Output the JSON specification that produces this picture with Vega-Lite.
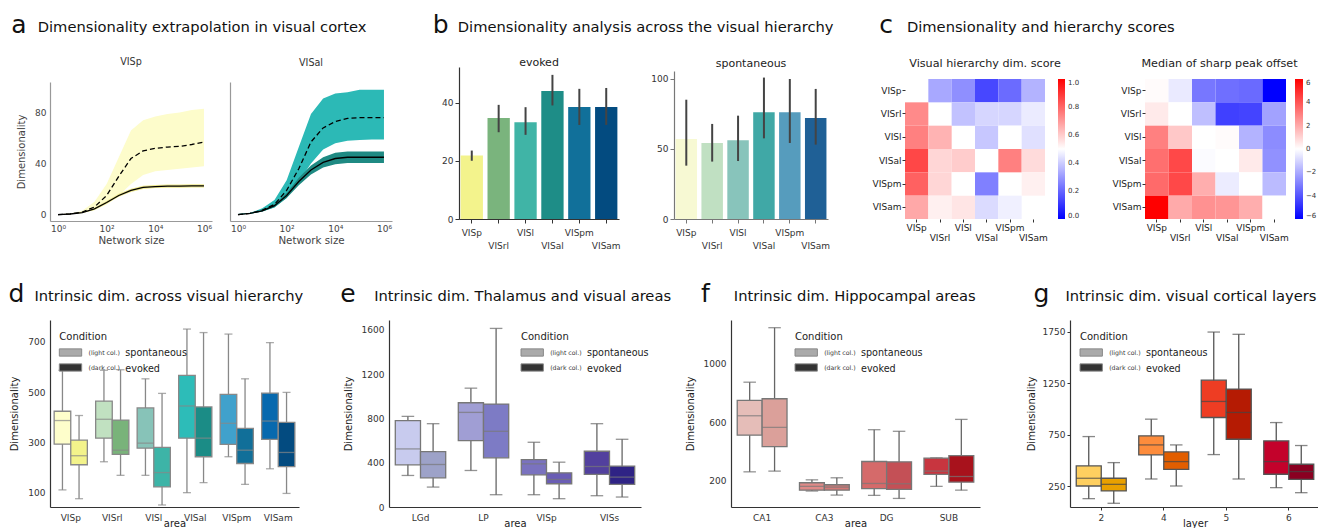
{
"$schema": "https://vega.github.io/schema/vega-lite/v6.json",
"padding": {"left": 8, "top": 25, "right": 0, "bottom": 0},
"config": {
  "font": "DejaVu Sans",
  "view": {"stroke": null},
  "axis": {"grid": false, "domainColor": "#333", "tickColor": "#333", "labelColor": "#333", "labelFont": "DejaVu Sans", "titleFont": "DejaVu Sans", "titleFontWeight": "normal", "titleColor": "#222", "labelFontSize": 9, "titleFontSize": 10, "tickSize": 4, "domainWidth": 1.2, "labelOverlap": false, "labelFlush": false},
  "legend": {"labelFont": "DejaVu Sans", "titleFont": "DejaVu Sans", "labelOverlap": false},
  "title": {"font": "DejaVu Sans", "fontWeight": "normal", "color": "#222"}
},
"datasets": {
  "a_visp": [
    {"n": 1, "m": 0, "lo": 0, "hi": 0.3, "ms": 0, "los": 0, "his": 0.3},
    {"n": 3.16, "m": 0.6, "lo": 0.4, "hi": 0.9, "ms": 0.5, "los": 0.3, "his": 0.7},
    {"n": 10, "m": 2, "lo": 1.2, "hi": 3, "ms": 1.6, "los": 1.2, "his": 2},
    {"n": 31.6, "m": 6, "lo": 3.5, "hi": 10, "ms": 4.5, "los": 3.7, "his": 5.3},
    {"n": 100, "m": 15, "lo": 8, "hi": 24, "ms": 9.5, "los": 8.5, "his": 10.6},
    {"n": 316, "m": 30, "lo": 15, "hi": 45, "ms": 15, "los": 14, "his": 16.3},
    {"n": 1000, "m": 44, "lo": 24, "hi": 66, "ms": 19, "los": 17.8, "his": 20.3},
    {"n": 3162, "m": 50, "lo": 31, "hi": 74, "ms": 21.3, "los": 20, "his": 22.6},
    {"n": 10000, "m": 52, "lo": 34, "hi": 77, "ms": 22, "los": 20.8, "his": 23.3},
    {"n": 31623, "m": 53, "lo": 35, "hi": 79, "ms": 22.3, "los": 21, "his": 23.6},
    {"n": 100000, "m": 53.5, "lo": 36, "hi": 80, "ms": 22.4, "los": 21.1, "his": 23.7},
    {"n": 316228, "m": 55, "lo": 37, "hi": 82, "ms": 22.5, "los": 21.2, "his": 23.8},
    {"n": 1000000, "m": 57, "lo": 38, "hi": 83, "ms": 22.5, "los": 21.2, "his": 23.8}
  ],
  "a_visal": [
    {"n": 1, "m": 0, "lo": 0, "hi": 0.4, "ms": 0, "los": 0, "his": 0.4},
    {"n": 3.16, "m": 1, "lo": 0.7, "hi": 1.4, "ms": 0.9, "los": 0.6, "his": 1.2},
    {"n": 10, "m": 3.5, "lo": 2.5, "hi": 5, "ms": 3, "los": 2.4, "his": 3.6},
    {"n": 31.6, "m": 8, "lo": 5.5, "hi": 11.5, "ms": 7, "los": 5.8, "his": 8.2},
    {"n": 100, "m": 19, "lo": 13, "hi": 27, "ms": 15, "los": 13, "his": 17},
    {"n": 316, "m": 36, "lo": 26, "hi": 53, "ms": 26, "los": 23, "his": 29},
    {"n": 1000, "m": 57, "lo": 40, "hi": 79, "ms": 35, "los": 31.5, "his": 38.5},
    {"n": 3162, "m": 68, "lo": 51, "hi": 91, "ms": 41, "los": 37, "his": 45},
    {"n": 10000, "m": 73, "lo": 56, "hi": 95, "ms": 44, "los": 39.5, "his": 48.5},
    {"n": 31623, "m": 75.5, "lo": 58, "hi": 96, "ms": 45, "los": 40.5, "his": 49.5},
    {"n": 100000, "m": 76, "lo": 58.5, "hi": 98, "ms": 45, "los": 40.5, "his": 49.5},
    {"n": 316228, "m": 76, "lo": 59, "hi": 98, "ms": 45, "los": 40.5, "his": 49.5},
    {"n": 1000000, "m": 76, "lo": 59, "hi": 98, "ms": 45, "los": 40.5, "his": 49.5}
  ],
  "b_ev": [
    {"area": "VISp", "v": 21.8, "lo": 20.0, "hi": 23.5},
    {"area": "VISrl", "v": 34.7, "lo": 29.8, "hi": 39.2},
    {"area": "VISl", "v": 33.2, "lo": 28.9, "hi": 38.4},
    {"area": "VISal", "v": 44.0, "lo": 39.0, "hi": 49.5},
    {"area": "VISpm", "v": 38.5, "lo": 32.3, "hi": 44.7},
    {"area": "VISam", "v": 38.5, "lo": 32.3, "hi": 45.0}
  ],
  "b_sp": [
    {"area": "VISp", "v": 57.1, "lo": 38.1, "hi": 85.2},
    {"area": "VISrl", "v": 54.3, "lo": 41.0, "hi": 67.9},
    {"area": "VISl", "v": 56.2, "lo": 41.4, "hi": 73.8},
    {"area": "VISal", "v": 76.2, "lo": 57.6, "hi": 101.0},
    {"area": "VISpm", "v": 76.2, "lo": 54.3, "hi": 100.0},
    {"area": "VISam", "v": 72.1, "lo": 53.1, "hi": 92.9}
  ],
  "c1": [
    {"r": "VISp", "c": "VISrl", "v": 0.33}, {"r": "VISp", "c": "VISl", "v": 0.28}, {"r": "VISp", "c": "VISal", "v": 0.14}, {"r": "VISp", "c": "VISpm", "v": 0.21}, {"r": "VISp", "c": "VISam", "v": 0.35},
    {"r": "VISrl", "c": "VISp", "v": 0.73}, {"r": "VISrl", "c": "VISl", "v": 0.38}, {"r": "VISrl", "c": "VISal", "v": 0.42}, {"r": "VISrl", "c": "VISpm", "v": 0.42}, {"r": "VISrl", "c": "VISam", "v": 0.46},
    {"r": "VISl", "c": "VISp", "v": 0.75}, {"r": "VISl", "c": "VISrl", "v": 0.65}, {"r": "VISl", "c": "VISal", "v": 0.39}, {"r": "VISl", "c": "VISpm", "v": 0.5}, {"r": "VISl", "c": "VISam", "v": 0.44},
    {"r": "VISal", "c": "VISp", "v": 0.86}, {"r": "VISal", "c": "VISrl", "v": 0.58}, {"r": "VISal", "c": "VISl", "v": 0.6}, {"r": "VISal", "c": "VISpm", "v": 0.75}, {"r": "VISal", "c": "VISam", "v": 0.57},
    {"r": "VISpm", "c": "VISp", "v": 0.81}, {"r": "VISpm", "c": "VISrl", "v": 0.58}, {"r": "VISpm", "c": "VISl", "v": 0.5}, {"r": "VISpm", "c": "VISal", "v": 0.25}, {"r": "VISpm", "c": "VISam", "v": 0.53},
    {"r": "VISam", "c": "VISp", "v": 0.67}, {"r": "VISam", "c": "VISrl", "v": 0.53}, {"r": "VISam", "c": "VISl", "v": 0.55}, {"r": "VISam", "c": "VISal", "v": 0.43}, {"r": "VISam", "c": "VISpm", "v": 0.47}
  ],
  "c2": [
    {"r": "VISp", "c": "VISp", "v": 0.1}, {"r": "VISp", "c": "VISrl", "v": -0.5}, {"r": "VISp", "c": "VISl", "v": -3.2}, {"r": "VISp", "c": "VISal", "v": -3.4}, {"r": "VISp", "c": "VISpm", "v": -3.5}, {"r": "VISp", "c": "VISam", "v": -6},
    {"r": "VISrl", "c": "VISp", "v": 0.5}, {"r": "VISrl", "c": "VISrl", "v": 0}, {"r": "VISrl", "c": "VISl", "v": -1.5}, {"r": "VISrl", "c": "VISal", "v": -4.5}, {"r": "VISrl", "c": "VISpm", "v": -4.4}, {"r": "VISrl", "c": "VISam", "v": -2.2},
    {"r": "VISl", "c": "VISp", "v": 3.0}, {"r": "VISl", "c": "VISrl", "v": 1.3}, {"r": "VISl", "c": "VISl", "v": 0}, {"r": "VISl", "c": "VISal", "v": 0.1}, {"r": "VISl", "c": "VISpm", "v": -1.8}, {"r": "VISl", "c": "VISam", "v": -2.7},
    {"r": "VISal", "c": "VISp", "v": 3.4}, {"r": "VISal", "c": "VISrl", "v": 4.3}, {"r": "VISal", "c": "VISl", "v": -0.1}, {"r": "VISal", "c": "VISal", "v": 0}, {"r": "VISal", "c": "VISpm", "v": 0.5}, {"r": "VISal", "c": "VISam", "v": -2.6},
    {"r": "VISpm", "c": "VISp", "v": 3.5}, {"r": "VISpm", "c": "VISrl", "v": 4.3}, {"r": "VISpm", "c": "VISl", "v": 1.9}, {"r": "VISpm", "c": "VISal", "v": -0.45}, {"r": "VISpm", "c": "VISpm", "v": 0}, {"r": "VISpm", "c": "VISam", "v": -1.6},
    {"r": "VISam", "c": "VISp", "v": 6}, {"r": "VISam", "c": "VISrl", "v": 2.0}, {"r": "VISam", "c": "VISl", "v": 2.6}, {"r": "VISam", "c": "VISal", "v": 2.5}, {"r": "VISam", "c": "VISpm", "v": 1.9}, {"r": "VISam", "c": "VISam", "v": 0}
  ],
  "d": [
    {"area": "VISp", "cond": "spontaneous", "lo": 111, "q1": 293, "med": 387, "q3": 424, "hi": 587},
    {"area": "VISp", "cond": "evoked", "lo": 76, "q1": 211, "med": 247, "q3": 309, "hi": 407},
    {"area": "VISrl", "cond": "spontaneous", "lo": 223, "q1": 317, "med": 392, "q3": 464, "hi": 587},
    {"area": "VISrl", "cond": "evoked", "lo": 169, "q1": 252, "med": 269, "q3": 389, "hi": 589},
    {"area": "VISl", "cond": "spontaneous", "lo": 169, "q1": 277, "med": 297, "q3": 437, "hi": 553},
    {"area": "VISl", "cond": "evoked", "lo": 51, "q1": 123, "med": 180, "q3": 280, "hi": 495},
    {"area": "VISal", "cond": "spontaneous", "lo": 100, "q1": 317, "med": 445, "q3": 567, "hi": 751},
    {"area": "VISal", "cond": "evoked", "lo": 140, "q1": 243, "med": 317, "q3": 441, "hi": 737},
    {"area": "VISpm", "cond": "spontaneous", "lo": 243, "q1": 292, "med": 376, "q3": 491, "hi": 731},
    {"area": "VISpm", "cond": "evoked", "lo": 133, "q1": 216, "med": 269, "q3": 356, "hi": 553},
    {"area": "VISam", "cond": "spontaneous", "lo": 195, "q1": 312, "med": 385, "q3": 496, "hi": 697},
    {"area": "VISam", "cond": "evoked", "lo": 97, "q1": 204, "med": 260, "q3": 380, "hi": 499}
  ],
  "e": [
    {"area": "LGd", "cond": "spontaneous", "lo": 285, "q1": 381, "med": 525, "q3": 780, "hi": 819},
    {"area": "LGd", "cond": "evoked", "lo": 180, "q1": 264, "med": 384, "q3": 501, "hi": 753},
    {"area": "LP", "cond": "spontaneous", "lo": 330, "q1": 600, "med": 855, "q3": 942, "hi": 1074},
    {"area": "LP", "cond": "evoked", "lo": 111, "q1": 444, "med": 684, "q3": 930, "hi": 1614},
    {"area": "VISp", "cond": "spontaneous", "lo": 111, "q1": 291, "med": 390, "q3": 429, "hi": 585},
    {"area": "VISp", "cond": "evoked", "lo": 75, "q1": 210, "med": 249, "q3": 309, "hi": 405},
    {"area": "VISs", "cond": "spontaneous", "lo": 102, "q1": 294, "med": 366, "q3": 504, "hi": 753},
    {"area": "VISs", "cond": "evoked", "lo": 90, "q1": 204, "med": 270, "q3": 369, "hi": 612}
  ],
  "f": [
    {"area": "CA1", "cond": "spontaneous", "lo": 257, "q1": 509, "med": 643, "q3": 749, "hi": 874},
    {"area": "CA1", "cond": "evoked", "lo": 262, "q1": 431, "med": 563, "q3": 760, "hi": 1249},
    {"area": "CA3", "cond": "spontaneous", "lo": 125, "q1": 131, "med": 157, "q3": 182, "hi": 202},
    {"area": "CA3", "cond": "evoked", "lo": 97, "q1": 131, "med": 152, "q3": 168, "hi": 216},
    {"area": "DG", "cond": "spontaneous", "lo": 95, "q1": 141, "med": 177, "q3": 328, "hi": 547},
    {"area": "DG", "cond": "evoked", "lo": 74, "q1": 136, "med": 175, "q3": 326, "hi": 536},
    {"area": "SUB", "cond": "spontaneous", "lo": 157, "q1": 239, "med": 262, "q3": 351, "hi": 353},
    {"area": "SUB", "cond": "evoked", "lo": 131, "q1": 186, "med": 225, "q3": 369, "hi": 618}
  ],
  "g": [
    {"layer": "2", "cond": "spontaneous", "lo": 130, "q1": 253, "med": 328, "q3": 448, "hi": 733},
    {"layer": "2", "cond": "evoked", "lo": 85, "q1": 205, "med": 269, "q3": 328, "hi": 480},
    {"layer": "4", "cond": "spontaneous", "lo": 321, "q1": 555, "med": 652, "q3": 740, "hi": 902},
    {"layer": "4", "cond": "evoked", "lo": 253, "q1": 415, "med": 490, "q3": 584, "hi": 652},
    {"layer": "5", "cond": "spontaneous", "lo": 558, "q1": 918, "med": 1074, "q3": 1281, "hi": 1748},
    {"layer": "5", "cond": "evoked", "lo": 321, "q1": 707, "med": 967, "q3": 1194, "hi": 1726},
    {"layer": "6", "cond": "spontaneous", "lo": 237, "q1": 367, "med": 490, "q3": 691, "hi": 869},
    {"layer": "6", "cond": "evoked", "lo": 188, "q1": 318, "med": 393, "q3": 464, "hi": 646}
  ],
  "leg": [
    {"cond": "spontaneous", "lab": "s"},
    {"cond": "evoked", "lab": "e"}
  ]
},
"resolve": {"scale": {"fill": "independent", "color": "independent", "shape": "independent", "stroke": "independent", "xOffset": "independent"}},
"spacing": 44,
"vconcat": [
  {
    "spacing": 40,
    "resolve": {"scale": {"fill": "independent", "color": "independent", "stroke": "independent"}},
    "hconcat": [
      {
        "bounds": "flush",
        "spacing": 18,
        "resolve": {"scale": {"stroke": "independent"}},
        "hconcat": [
          {
            "width": 162, "height": 154,
            "title": {"text": "VISp", "fontSize": 9.6, "offset": -41.5, "color": "#333"},
            "data": {"name": "a_visp"},
            "layer": [
              {"mark": {"type": "area", "color": "#fdfccb", "opacity": 1},
               "encoding": {
                 "x": {"field": "n", "type": "quantitative", "scale": {"type": "log", "domain": [0.47, 2140000], "nice": false}, "axis": {"title": "Network size", "values": [1, 100, 10000, 1000000], "labelExpr": "datum.value == 1 ? '10⁰' : datum.value == 100 ? '10²' : datum.value == 10000 ? '10⁴' : '10⁶'", "ticks": false, "labelPadding": 3, "titlePadding": 2, "titleFontSize": 10.3, "domainColor": "#999", "labelColor": "#444", "titleColor": "#444"}},
                 "y": {"field": "lo", "type": "quantitative", "scale": {"domain": [-5, 104], "range": [154, 15], "nice": false, "zero": false}, "axis": {"title": "Dimensionality", "values": [0, 40, 80], "ticks": false, "labelPadding": 4, "titlePadding": 8, "titleFontSize": 10, "domainColor": "#999", "labelColor": "#444", "titleColor": "#444"}},
                 "y2": {"field": "hi"}}},
              {"mark": {"type": "area", "color": "#efe98f"},
               "encoding": {"x": {"field": "n", "type": "quantitative"}, "y": {"field": "los", "type": "quantitative"}, "y2": {"field": "his"}}},
              {"mark": {"type": "line", "color": "#000", "strokeWidth": 1.3, "strokeDash": [5, 3]},
               "encoding": {"x": {"field": "n", "type": "quantitative"}, "y": {"field": "m", "type": "quantitative"}}},
              {"mark": {"type": "line", "color": "#000", "strokeWidth": 1.3},
               "encoding": {"x": {"field": "n", "type": "quantitative"}, "y": {"field": "ms", "type": "quantitative"}}},
              {"data": {"values": [{"t": "Dimensionality extrapolation in visual cortex"}]},
               "mark": {"type": "point", "opacity": 0},
               "encoding": {"stroke": {"field": "t", "type": "nominal", "scale": {"range": ["#000000"]}, "legend": {"title": "a", "titleOrient": "left", "titleAnchor": "start", "titleBaseline": "middle", "titleFontSize": 25, "titleFontWeight": "normal", "titleColor": "#111", "titlePadding": 0, "orient": "none", "legendX": -38.8, "legendY": -42, "padding": 0, "symbolOpacity": 0, "symbolSize": 0, "symbolStrokeWidth": 0, "labelFontSize": 14.7, "labelColor": "#111", "labelLimit": 0, "labelOffset": -4.2, "labelBaseline": "alphabetic"}}}}
            ]
          },
          {
            "width": 162, "height": 154,
            "title": {"text": "VISal", "fontSize": 9.6, "offset": -0.5, "color": "#333"},
            "data": {"name": "a_visal"},
            "layer": [
              {"mark": {"type": "area", "color": "#2cb9b6", "opacity": 1},
               "encoding": {
                 "x": {"field": "n", "type": "quantitative", "scale": {"type": "log", "domain": [0.47, 2140000], "nice": false}, "axis": {"title": "Network size", "values": [1, 100, 10000, 1000000], "labelExpr": "datum.value == 1 ? '10⁰' : datum.value == 100 ? '10²' : datum.value == 10000 ? '10⁴' : '10⁶'", "ticks": false, "labelPadding": 3, "titlePadding": 2, "titleFontSize": 10.3, "domainColor": "#999", "labelColor": "#444", "titleColor": "#444"}},
                 "y": {"field": "lo", "type": "quantitative", "scale": {"domain": [-5, 104], "range": [154, 15], "nice": false, "zero": false}, "axis": {"title": null, "labels": false, "ticks": false, "domainColor": "#999"}},
                 "y2": {"field": "hi"}}},
              {"mark": {"type": "area", "color": "#1f8a83"},
               "encoding": {"x": {"field": "n", "type": "quantitative"}, "y": {"field": "los", "type": "quantitative"}, "y2": {"field": "his"}}},
              {"mark": {"type": "line", "color": "#000", "strokeWidth": 1.3, "strokeDash": [5, 3]},
               "encoding": {"x": {"field": "n", "type": "quantitative"}, "y": {"field": "m", "type": "quantitative"}}},
              {"mark": {"type": "line", "color": "#000", "strokeWidth": 1.3},
               "encoding": {"x": {"field": "n", "type": "quantitative"}, "y": {"field": "ms", "type": "quantitative"}}}
            ]
          }
        ]
      },
      {
        "spacing": 37,
        "resolve": {"scale": {"fill": "independent", "color": "independent", "stroke": "independent"}},
        "hconcat": [
          {
            "bounds": "flush",
            "spacing": 55,
            "resolve": {"scale": {"fill": "independent", "stroke": "independent"}},
            "hconcat": [
              {
                "width": 160, "height": 152,
                "title": {"text": "evoked", "fontSize": 11, "offset": -42.5, "color": "#222"},
                "data": {"name": "b_ev"},
                "layer": [
                  {"mark": {"type": "bar"},
                   "encoding": {
                     "x": {"field": "area", "type": "nominal", "sort": null, "scale": {"paddingInner": 0.17, "paddingOuter": 0.06}, "axis": {"title": null, "labelAngle": 0, "tickSize": 4, "labelPadding": 5, "labelLineHeight": 13, "labelExpr": "indexof(['VISrl','VISal','VISam'], datum.value) >= 0 ? ['', datum.label] : datum.label"}},
                     "y": {"field": "v", "type": "quantitative", "scale": {"domain": [0, 52.2], "nice": false}, "axis": {"title": null, "values": [0, 20, 40], "tickSize": 4}},
                     "fill": {"field": "area", "type": "nominal", "scale": {"domain": ["VISp", "VISrl", "VISl", "VISal", "VISpm", "VISam"], "range": ["#f3f38c", "#7ab47d", "#40b4a6", "#1e8d87", "#11709a", "#034b80"]}, "legend": null}}},
                  {"mark": {"type": "rule", "color": "#444", "strokeWidth": 2},
                   "encoding": {"x": {"field": "area", "type": "nominal", "sort": null}, "y": {"field": "lo", "type": "quantitative"}, "y2": {"field": "hi"}}},
                  {"data": {"values": [{"t": "Dimensionality analysis across the visual hierarchy"}]},
                   "mark": {"type": "point", "opacity": 0},
                   "encoding": {"stroke": {"field": "t", "type": "nominal", "scale": {"range": ["#000000"]}, "legend": {"title": "b", "titleOrient": "left", "titleAnchor": "start", "titleBaseline": "middle", "titleFontSize": 25, "titleFontWeight": "normal", "titleColor": "#111", "titlePadding": 0, "orient": "none", "legendX": -26.3, "legendY": -42, "padding": 0, "symbolOpacity": 0, "symbolSize": 0, "symbolStrokeWidth": 0, "labelFontSize": 14.7, "labelColor": "#111", "labelLimit": 0, "labelOffset": -5.6, "labelBaseline": "alphabetic"}}}}
                ]
              },
              {
                "width": 154, "height": 152,
                "title": {"text": "spontaneous", "fontSize": 11, "offset": -1.5, "color": "#222"},
                "data": {"name": "b_sp"},
                "layer": [
                  {"mark": {"type": "bar"},
                   "encoding": {
                     "x": {"field": "area", "type": "nominal", "sort": null, "scale": {"paddingInner": 0.17, "paddingOuter": 0.06}, "axis": {"title": null, "labelAngle": 0, "tickSize": 4, "labelPadding": 5, "labelLineHeight": 13, "domainColor": "#777", "tickColor": "#777", "labelExpr": "indexof(['VISrl','VISal','VISam'], datum.value) >= 0 ? ['', datum.label] : datum.label"}},
                     "y": {"field": "v", "type": "quantitative", "scale": {"domain": [0, 105.7], "range": [152, 4], "nice": false}, "axis": {"title": null, "values": [0, 25, 50, 75, 100], "tickSize": 4, "domainColor": "#777", "tickColor": "#777"}},
                     "fill": {"field": "area", "type": "nominal", "scale": {"domain": ["VISp", "VISrl", "VISl", "VISal", "VISpm", "VISam"], "range": ["#f7f9d3", "#c0e0c2", "#88c4bb", "#40a8a6", "#569cbd", "#1f6096"]}, "legend": null}}},
                  {"mark": {"type": "rule", "color": "#444", "strokeWidth": 2},
                   "encoding": {"x": {"field": "area", "type": "nominal", "sort": null}, "y": {"field": "lo", "type": "quantitative"}, "y2": {"field": "hi"}}}
                ]
              }
            ]
          },
          {
            "bounds": "flush",
            "spacing": 100,
            "resolve": {"scale": {"color": "independent", "stroke": "independent"}},
            "hconcat": [
              {
                "width": 140, "height": 152,
                "title": {"text": "Visual hierarchy dim. score", "fontSize": 11.2, "offset": -44, "dx": 10, "color": "#222"},
                "data": {"name": "c1"},
                "layer": [
                  {"mark": {"type": "rect"},
                   "encoding": {
                     "x": {"field": "c", "type": "nominal", "scale": {"domain": ["VISp", "VISrl", "VISl", "VISal", "VISpm", "VISam"], "paddingInner": 0, "paddingOuter": 0}, "axis": {"title": null, "labelAngle": 0, "domain": false, "tickSize": 3, "labelPadding": 1, "labelLineHeight": 10, "labelColor": "#222", "labelExpr": "indexof(['VISrl','VISal','VISam'], datum.value) >= 0 ? ['', datum.label] : datum.label"}},
                     "y": {"field": "r", "type": "nominal", "scale": {"domain": ["VISp", "VISrl", "VISl", "VISal", "VISpm", "VISam"], "range": [12, 152], "paddingInner": 0, "paddingOuter": 0}, "axis": {"title": null, "domain": false, "tickSize": 3, "labelPadding": 1, "labelColor": "#222"}},
                     "color": {"field": "v", "type": "quantitative", "scale": {"domain": [0, 0.5, 1], "range": ["#0000ff", "#ffffff", "#ff0000"], "interpolate": "rgb"}, "legend": {"title": null, "orient": "none", "direction": "vertical", "legendX": 153, "legendY": 12, "gradientLength": 140, "gradientThickness": 7, "values": [0, 0.2, 0.4, 0.6, 0.8, 1], "format": ".1f", "labelFontSize": 7, "labelOffset": 3, "padding": 0, "gradientStrokeWidth": 0, "labelColor": "#333"}}}},
                  {"data": {"values": [{"t": "Dimensionality and hierarchy scores"}]},
                   "mark": {"type": "point", "opacity": 0},
                   "encoding": {"stroke": {"field": "t", "type": "nominal", "scale": {"range": ["#000000"]}, "legend": {"title": "c", "titleOrient": "left", "titleAnchor": "start", "titleBaseline": "middle", "titleFontSize": 25, "titleFontWeight": "normal", "titleColor": "#111", "titlePadding": 0, "orient": "none", "legendX": -25.8, "legendY": -42, "padding": 0, "symbolOpacity": 0, "symbolSize": 0, "symbolStrokeWidth": 0, "labelFontSize": 14.7, "labelColor": "#111", "labelLimit": 0, "labelOffset": -1, "labelBaseline": "alphabetic"}}}}
                ]
              },
              {
                "width": 141, "height": 152,
                "title": {"text": "Median of sharp peak offset", "fontSize": 11.2, "offset": -2.5, "dx": 4, "color": "#222"},
                "data": {"name": "c2"},
                "mark": {"type": "rect"},
                "encoding": {
                  "x": {"field": "c", "type": "nominal", "scale": {"domain": ["VISp", "VISrl", "VISl", "VISal", "VISpm", "VISam"], "paddingInner": 0, "paddingOuter": 0}, "axis": {"title": null, "labelAngle": 0, "domain": false, "tickSize": 3, "labelPadding": 1, "labelLineHeight": 10, "labelColor": "#222", "labelExpr": "indexof(['VISrl','VISal','VISam'], datum.value) >= 0 ? ['', datum.label] : datum.label"}},
                  "y": {"field": "r", "type": "nominal", "scale": {"domain": ["VISp", "VISrl", "VISl", "VISal", "VISpm", "VISam"], "range": [12, 152], "paddingInner": 0, "paddingOuter": 0}, "axis": {"title": null, "domain": false, "tickSize": 3, "labelPadding": 1, "labelColor": "#222"}},
                  "color": {"field": "v", "type": "quantitative", "scale": {"domain": [-6, 0, 6], "range": ["#0000ff", "#ffffff", "#ff0000"], "interpolate": "rgb"}, "legend": {"title": null, "orient": "none", "direction": "vertical", "legendX": 150, "legendY": 12, "gradientLength": 140, "gradientThickness": 8, "values": [-6, -4, -2, 0, 2, 4, 6], "format": "d", "labelFontSize": 7, "labelOffset": 3, "padding": 0, "gradientStrokeWidth": 0, "labelColor": "#333"}}
                }
              }
            ]
          }
        ]
      }
    ]
  },
  {
    "spacing": 90,
    "bounds": "flush",
    "resolve": {"scale": {"fill": "independent", "shape": "independent", "stroke": "independent", "xOffset": "independent"}},
    "hconcat": [
      {
        "width": 249, "height": 187,
        "data": {"name": "d"},
        "resolve": {"scale": {"fill": "independent", "shape": "independent"}},
        "layer": [
          {"mark": {"type": "rule", "color": "#888", "strokeWidth": 1.3},
           "encoding": {
             "x": {"field": "area", "type": "nominal", "scale": {"domain": ["VISp", "VISrl", "VISl", "VISal", "VISpm", "VISam"], "paddingInner": 0.2, "paddingOuter": 0.1}, "axis": {"title": "area", "labelAngle": 0, "ticks": false, "labelPadding": 6, "titlePadding": -4}},
             "xOffset": {"field": "cond", "type": "nominal", "scale": {"domain": ["spontaneous", "evoked"], "paddingInner": 0, "paddingOuter": 0}},
             "y": {"field": "lo", "type": "quantitative", "scale": {"domain": [43, 787], "nice": false, "zero": false}, "axis": {"title": "Dimensionality", "values": [100, 300, 500, 700], "format": "d", "ticks": false, "labelPadding": 5, "titlePadding": 8}},
             "y2": {"field": "hi"}}},
          {"mark": {"type": "tick", "color": "#888", "thickness": 1.3, "size": 8},
           "encoding": {"x": {"field": "area", "type": "nominal"}, "xOffset": {"field": "cond", "type": "nominal"}, "y": {"field": "lo", "type": "quantitative"}}},
          {"mark": {"type": "tick", "color": "#888", "thickness": 1.3, "size": 8},
           "encoding": {"x": {"field": "area", "type": "nominal"}, "xOffset": {"field": "cond", "type": "nominal"}, "y": {"field": "hi", "type": "quantitative"}}},
          {"transform": [{"filter": "datum.cond == 'spontaneous'"}],
           "mark": {"type": "bar", "stroke": "#888", "strokeWidth": 1.3},
           "encoding": {"x": {"field": "area", "type": "nominal"}, "xOffset": {"field": "cond", "type": "nominal"}, "y": {"field": "q1", "type": "quantitative"}, "y2": {"field": "q3"},
             "fill": {"field": "area", "type": "nominal", "scale": {"domain": ["VISp", "VISrl", "VISl", "VISal", "VISpm", "VISam"], "range": ["#fefecb", "#c1e1c1", "#87c3b8", "#2dbcb8", "#40a1cc", "#0769ae"]}, "legend": null}}},
          {"transform": [{"filter": "datum.cond == 'evoked'"}],
           "mark": {"type": "bar", "stroke": "#888", "strokeWidth": 1.3},
           "encoding": {"x": {"field": "area", "type": "nominal"}, "xOffset": {"field": "cond", "type": "nominal"}, "y": {"field": "q1", "type": "quantitative"}, "y2": {"field": "q3"},
             "fill": {"field": "area", "type": "nominal", "scale": {"domain": ["VISp", "VISrl", "VISl", "VISal", "VISpm", "VISam"], "range": ["#f3f38b", "#79b37a", "#3db4a7", "#1b8c86", "#116f99", "#034b80"]}, "legend": null}}},
          {"mark": {"type": "tick", "color": "#888", "thickness": 1.3, "size": 16.6},
           "encoding": {"x": {"field": "area", "type": "nominal"}, "xOffset": {"field": "cond", "type": "nominal"}, "y": {"field": "med", "type": "quantitative"}}},
          {"data": {"name": "leg"},
           "mark": {"type": "point", "shape": "square", "filled": true, "opacity": 0},
           "encoding": {
             "fill": {"field": "cond", "type": "nominal", "scale": {"domain": ["spontaneous", "evoked"], "range": ["#aaaaaa", "#333333"]}, "legend": {"title": "Condition", "orient": "none", "legendX": 9.3, "legendY": 11.5, "padding": 0, "titleFontSize": 10, "titleFontWeight": "normal", "titleColor": "#222", "titlePadding": 4, "symbolType": "M-1.72,-0.56H1.72V0.56H-1.72Z", "symbolSize": 169, "symbolOffset": 4.2, "symbolStrokeColor": "#888888", "symbolStrokeWidth": 1, "symbolOpacity": 1, "labelFontSize": 6.2, "labelOffset": 11, "labelColor": "#333", "rowPadding": 2, "labelExpr": "datum.value == 'spontaneous' ? '(light col.)' : '(dark col.)'"}},
             "shape": {"field": "lab", "type": "nominal", "scale": {"domain": ["s", "e"], "range": ["square", "square"]}, "legend": {"title": null, "orient": "none", "legendX": 9.3, "legendY": 25.5, "padding": 0, "symbolType": "M-1.72,-0.56H1.72V0.56H-1.72Z", "symbolSize": 169, "symbolStrokeWidth": 1, "symbolOpacity": 0, "labelFontSize": 9.6, "labelOffset": 52, "labelColor": "#222", "rowPadding": 2, "labelExpr": "datum.value == 's' ? 'spontaneous' : 'evoked'"}}}},
          {"data": {"values": [{"t": "Intrinsic dim. across visual hierarchy"}]},
           "mark": {"type": "point", "opacity": 0},
           "encoding": {"stroke": {"field": "t", "type": "nominal", "scale": {"range": ["#000000"]}, "legend": {"title": "d", "titleOrient": "left", "titleAnchor": "start", "titleBaseline": "middle", "titleFontSize": 25, "titleFontWeight": "normal", "titleColor": "#111", "titlePadding": 0, "orient": "none", "legendX": -41.4, "legendY": -26, "padding": 0, "symbolOpacity": 0, "symbolSize": 0, "symbolStrokeWidth": 0, "labelFontSize": 14.7, "labelColor": "#111", "labelLimit": 0, "labelOffset": -4.9, "labelBaseline": "alphabetic"}}}}
        ]
      },
      {
        "width": 252, "height": 187,
        "data": {"name": "e"},
        "resolve": {"scale": {"fill": "independent", "shape": "independent"}},
        "layer": [
          {"mark": {"type": "rule", "color": "#666", "strokeWidth": 1.3},
           "encoding": {
             "x": {"field": "area", "type": "nominal", "scale": {"domain": ["LGd", "LP", "VISp", "VISs"], "paddingInner": 0.2, "paddingOuter": 0.1}, "axis": {"title": "area", "labelAngle": 0, "ticks": false, "labelPadding": 6, "titlePadding": -4}},
             "xOffset": {"field": "cond", "type": "nominal", "scale": {"domain": ["spontaneous", "evoked"], "paddingInner": 0, "paddingOuter": 0}},
             "y": {"field": "lo", "type": "quantitative", "scale": {"domain": [0, 1690], "nice": false, "zero": false}, "axis": {"title": "Dimensionality", "values": [0, 400, 800, 1200, 1600], "format": "d", "ticks": false, "labelPadding": 5, "titlePadding": 8}},
             "y2": {"field": "hi"}}},
          {"mark": {"type": "tick", "color": "#666", "thickness": 1.3, "size": 12.6},
           "encoding": {"x": {"field": "area", "type": "nominal"}, "xOffset": {"field": "cond", "type": "nominal"}, "y": {"field": "lo", "type": "quantitative"}}},
          {"mark": {"type": "tick", "color": "#666", "thickness": 1.3, "size": 12.6},
           "encoding": {"x": {"field": "area", "type": "nominal"}, "xOffset": {"field": "cond", "type": "nominal"}, "y": {"field": "hi", "type": "quantitative"}}},
          {"transform": [{"filter": "datum.cond == 'spontaneous'"}],
           "mark": {"type": "bar", "stroke": "#777", "strokeWidth": 1.3},
           "encoding": {"x": {"field": "area", "type": "nominal"}, "xOffset": {"field": "cond", "type": "nominal"}, "y": {"field": "q1", "type": "quantitative"}, "y2": {"field": "q3"},
             "fill": {"field": "area", "type": "nominal", "scale": {"domain": ["LGd", "LP", "VISp", "VISs"], "range": ["#c8cbee", "#a09ed4", "#7a72bf", "#52409e"]}, "legend": null}}},
          {"transform": [{"filter": "datum.cond == 'evoked'"}],
           "mark": {"type": "bar", "stroke": "#777", "strokeWidth": 1.3},
           "encoding": {"x": {"field": "area", "type": "nominal"}, "xOffset": {"field": "cond", "type": "nominal"}, "y": {"field": "q1", "type": "quantitative"}, "y2": {"field": "q3"},
             "fill": {"field": "area", "type": "nominal", "scale": {"domain": ["LGd", "LP", "VISp", "VISs"], "range": ["#9da2c8", "#7d7bc5", "#6a5db5", "#2f2385"]}, "legend": null}}},
          {"mark": {"type": "tick", "color": "#777", "thickness": 1.3, "size": 25.2},
           "encoding": {"x": {"field": "area", "type": "nominal"}, "xOffset": {"field": "cond", "type": "nominal"}, "y": {"field": "med", "type": "quantitative"}}},
          {"data": {"name": "leg"},
           "mark": {"type": "point", "shape": "square", "filled": true, "opacity": 0},
           "encoding": {
             "fill": {"field": "cond", "type": "nominal", "scale": {"domain": ["spontaneous", "evoked"], "range": ["#aaaaaa", "#333333"]}, "legend": {"title": "Condition", "orient": "none", "legendX": 132, "legendY": 11.5, "padding": 0, "titleFontSize": 10, "titleFontWeight": "normal", "titleColor": "#222", "titlePadding": 4, "symbolType": "M-1.72,-0.56H1.72V0.56H-1.72Z", "symbolSize": 169, "symbolOffset": 4.2, "symbolStrokeColor": "#888888", "symbolStrokeWidth": 1, "symbolOpacity": 1, "labelFontSize": 6.2, "labelOffset": 11, "labelColor": "#333", "rowPadding": 2, "labelExpr": "datum.value == 'spontaneous' ? '(light col.)' : '(dark col.)'"}},
             "shape": {"field": "lab", "type": "nominal", "scale": {"domain": ["s", "e"], "range": ["square", "square"]}, "legend": {"title": null, "orient": "none", "legendX": 132, "legendY": 25.5, "padding": 0, "symbolType": "M-1.72,-0.56H1.72V0.56H-1.72Z", "symbolSize": 169, "symbolStrokeWidth": 1, "symbolOpacity": 0, "labelFontSize": 9.6, "labelOffset": 52, "labelColor": "#222", "rowPadding": 2, "labelExpr": "datum.value == 's' ? 'spontaneous' : 'evoked'"}}}},
          {"data": {"values": [{"t": "Intrinsic dim. Thalamus and visual areas"}]},
           "mark": {"type": "point", "opacity": 0},
           "encoding": {"stroke": {"field": "t", "type": "nominal", "scale": {"range": ["#000000"]}, "legend": {"title": "e", "titleOrient": "left", "titleAnchor": "start", "titleBaseline": "middle", "titleFontSize": 25, "titleFontWeight": "normal", "titleColor": "#111", "titlePadding": 0, "orient": "none", "legendX": -48.7, "legendY": -26, "padding": 0, "symbolOpacity": 0, "symbolSize": 0, "symbolStrokeWidth": 0, "labelFontSize": 14.7, "labelColor": "#111", "labelLimit": 0, "labelOffset": 3.2, "labelBaseline": "alphabetic"}}}}
        ]
      },
      {
        "width": 249, "height": 187,
        "data": {"name": "f"},
        "resolve": {"scale": {"fill": "independent", "shape": "independent"}},
        "layer": [
          {"mark": {"type": "rule", "color": "#666", "strokeWidth": 1.3},
           "encoding": {
             "x": {"field": "area", "type": "nominal", "scale": {"domain": ["CA1", "CA3", "DG", "SUB"], "paddingInner": 0.2, "paddingOuter": 0.1}, "axis": {"title": "area", "labelAngle": 0, "ticks": false, "labelPadding": 6, "titlePadding": -4}},
             "xOffset": {"field": "cond", "type": "nominal", "scale": {"domain": ["spontaneous", "evoked"], "paddingInner": 0, "paddingOuter": 0}},
             "y": {"field": "lo", "type": "quantitative", "scale": {"domain": [15, 1302], "nice": false, "zero": false}, "axis": {"title": "Dimensionality", "values": [200, 600, 1000], "format": "d", "ticks": false, "labelPadding": 5, "titlePadding": 8}},
             "y2": {"field": "hi"}}},
          {"mark": {"type": "tick", "color": "#666", "thickness": 1.3, "size": 12.5},
           "encoding": {"x": {"field": "area", "type": "nominal"}, "xOffset": {"field": "cond", "type": "nominal"}, "y": {"field": "lo", "type": "quantitative"}}},
          {"mark": {"type": "tick", "color": "#666", "thickness": 1.3, "size": 12.5},
           "encoding": {"x": {"field": "area", "type": "nominal"}, "xOffset": {"field": "cond", "type": "nominal"}, "y": {"field": "hi", "type": "quantitative"}}},
          {"transform": [{"filter": "datum.cond == 'spontaneous'"}],
           "mark": {"type": "bar", "stroke": "#777", "strokeWidth": 1.3},
           "encoding": {"x": {"field": "area", "type": "nominal"}, "xOffset": {"field": "cond", "type": "nominal"}, "y": {"field": "q1", "type": "quantitative"}, "y2": {"field": "q3"},
             "fill": {"field": "area", "type": "nominal", "scale": {"domain": ["CA1", "CA3", "DG", "SUB"], "range": ["#e5bdb8", "#e08a88", "#d56a6a", "#c8353f"]}, "legend": null}}},
          {"transform": [{"filter": "datum.cond == 'evoked'"}],
           "mark": {"type": "bar", "stroke": "#777", "strokeWidth": 1.3},
           "encoding": {"x": {"field": "area", "type": "nominal"}, "xOffset": {"field": "cond", "type": "nominal"}, "y": {"field": "q1", "type": "quantitative"}, "y2": {"field": "q3"},
             "fill": {"field": "area", "type": "nominal", "scale": {"domain": ["CA1", "CA3", "DG", "SUB"], "range": ["#dba09a", "#d47a78", "#c45056", "#a8121c"]}, "legend": null}}},
          {"mark": {"type": "tick", "color": "#777", "thickness": 1.3, "size": 24.9},
           "encoding": {"x": {"field": "area", "type": "nominal"}, "xOffset": {"field": "cond", "type": "nominal"}, "y": {"field": "med", "type": "quantitative"}}},
          {"data": {"name": "leg"},
           "mark": {"type": "point", "shape": "square", "filled": true, "opacity": 0},
           "encoding": {
             "fill": {"field": "cond", "type": "nominal", "scale": {"domain": ["spontaneous", "evoked"], "range": ["#aaaaaa", "#333333"]}, "legend": {"title": "Condition", "orient": "none", "legendX": 64, "legendY": 11.5, "padding": 0, "titleFontSize": 10, "titleFontWeight": "normal", "titleColor": "#222", "titlePadding": 4, "symbolType": "M-1.72,-0.56H1.72V0.56H-1.72Z", "symbolSize": 169, "symbolOffset": 4.2, "symbolStrokeColor": "#888888", "symbolStrokeWidth": 1, "symbolOpacity": 1, "labelFontSize": 6.2, "labelOffset": 11, "labelColor": "#333", "rowPadding": 2, "labelExpr": "datum.value == 'spontaneous' ? '(light col.)' : '(dark col.)'"}},
             "shape": {"field": "lab", "type": "nominal", "scale": {"domain": ["s", "e"], "range": ["square", "square"]}, "legend": {"title": null, "orient": "none", "legendX": 64, "legendY": 25.5, "padding": 0, "symbolType": "M-1.72,-0.56H1.72V0.56H-1.72Z", "symbolSize": 169, "symbolStrokeWidth": 1, "symbolOpacity": 0, "labelFontSize": 9.6, "labelOffset": 52, "labelColor": "#222", "rowPadding": 2, "labelExpr": "datum.value == 's' ? 'spontaneous' : 'evoked'"}}}},
          {"data": {"values": [{"t": "Intrinsic dim. Hippocampal areas"}]},
           "mark": {"type": "point", "opacity": 0},
           "encoding": {"stroke": {"field": "t", "type": "nominal", "scale": {"range": ["#000000"]}, "legend": {"title": "f", "titleOrient": "left", "titleAnchor": "start", "titleBaseline": "middle", "titleFontSize": 25, "titleFontWeight": "normal", "titleColor": "#111", "titlePadding": 0, "orient": "none", "legendX": -30, "legendY": -26, "padding": 0, "symbolOpacity": 0, "symbolSize": 0, "symbolStrokeWidth": 0, "labelFontSize": 14.7, "labelColor": "#111", "labelLimit": 0, "labelOffset": 9.1, "labelBaseline": "alphabetic"}}}}
        ]
      },
      {
        "width": 250, "height": 187,
        "data": {"name": "g"},
        "resolve": {"scale": {"fill": "independent", "shape": "independent"}},
        "layer": [
          {"mark": {"type": "rule", "color": "#555", "strokeWidth": 1.3},
           "encoding": {
             "x": {"field": "layer", "type": "nominal", "scale": {"domain": ["2", "4", "5", "6"], "paddingInner": 0.2, "paddingOuter": 0.1}, "axis": {"title": "layer", "labelAngle": 0, "tickSize": 3, "labelPadding": 3, "titlePadding": -4}},
             "xOffset": {"field": "cond", "type": "nominal", "scale": {"domain": ["spontaneous", "evoked"], "paddingInner": 0, "paddingOuter": 0}},
             "y": {"field": "lo", "type": "quantitative", "scale": {"domain": [49, 1865], "nice": false, "zero": false}, "axis": {"title": "Dimensionality", "values": [250, 500, 750, 1000, 1250, 1500, 1750], "format": "d", "tickSize": 3, "labelPadding": 2, "titlePadding": 6}},
             "y2": {"field": "hi"}}},
          {"mark": {"type": "tick", "color": "#555", "thickness": 1.3, "size": 12.5},
           "encoding": {"x": {"field": "layer", "type": "nominal"}, "xOffset": {"field": "cond", "type": "nominal"}, "y": {"field": "lo", "type": "quantitative"}}},
          {"mark": {"type": "tick", "color": "#555", "thickness": 1.3, "size": 12.5},
           "encoding": {"x": {"field": "layer", "type": "nominal"}, "xOffset": {"field": "cond", "type": "nominal"}, "y": {"field": "hi", "type": "quantitative"}}},
          {"transform": [{"filter": "datum.cond == 'spontaneous'"}],
           "mark": {"type": "bar", "stroke": "#555", "strokeWidth": 1.3},
           "encoding": {"x": {"field": "layer", "type": "nominal"}, "xOffset": {"field": "cond", "type": "nominal"}, "y": {"field": "q1", "type": "quantitative"}, "y2": {"field": "q3"},
             "fill": {"field": "layer", "type": "nominal", "scale": {"domain": ["2", "4", "5", "6"], "range": ["#fecf60", "#fd8c3c", "#ee3d23", "#c3022b"]}, "legend": null}}},
          {"transform": [{"filter": "datum.cond == 'evoked'"}],
           "mark": {"type": "bar", "stroke": "#555", "strokeWidth": 1.3},
           "encoding": {"x": {"field": "layer", "type": "nominal"}, "xOffset": {"field": "cond", "type": "nominal"}, "y": {"field": "q1", "type": "quantitative"}, "y2": {"field": "q3"},
             "fill": {"field": "layer", "type": "nominal", "scale": {"domain": ["2", "4", "5", "6"], "range": ["#e9a000", "#e25e00", "#b51b03", "#8a0021"]}, "legend": null}}},
          {"mark": {"type": "tick", "color": "#444", "thickness": 1.3, "size": 25},
           "encoding": {"x": {"field": "layer", "type": "nominal"}, "xOffset": {"field": "cond", "type": "nominal"}, "y": {"field": "med", "type": "quantitative"}}},
          {"data": {"name": "leg"},
           "mark": {"type": "point", "shape": "square", "filled": true, "opacity": 0},
           "encoding": {
             "fill": {"field": "cond", "type": "nominal", "scale": {"domain": ["spontaneous", "evoked"], "range": ["#aaaaaa", "#333333"]}, "legend": {"title": "Condition", "orient": "none", "legendX": 10, "legendY": 11.5, "padding": 0, "titleFontSize": 10, "titleFontWeight": "normal", "titleColor": "#222", "titlePadding": 4, "symbolType": "M-1.72,-0.56H1.72V0.56H-1.72Z", "symbolSize": 169, "symbolOffset": 4.2, "symbolStrokeColor": "#888888", "symbolStrokeWidth": 1, "symbolOpacity": 1, "labelFontSize": 6.2, "labelOffset": 11, "labelColor": "#333", "rowPadding": 2, "labelExpr": "datum.value == 'spontaneous' ? '(light col.)' : '(dark col.)'"}},
             "shape": {"field": "lab", "type": "nominal", "scale": {"domain": ["s", "e"], "range": ["square", "square"]}, "legend": {"title": null, "orient": "none", "legendX": 10, "legendY": 25.5, "padding": 0, "symbolType": "M-1.72,-0.56H1.72V0.56H-1.72Z", "symbolSize": 169, "symbolStrokeWidth": 1, "symbolOpacity": 0, "labelFontSize": 9.6, "labelOffset": 52, "labelColor": "#222", "rowPadding": 2, "labelExpr": "datum.value == 's' ? 'spontaneous' : 'evoked'"}}}},
          {"data": {"values": [{"t": "Intrinsic dim. visual cortical layers"}]},
           "mark": {"type": "point", "opacity": 0},
           "encoding": {"stroke": {"field": "t", "type": "nominal", "scale": {"range": ["#000000"]}, "legend": {"title": "g", "titleOrient": "left", "titleAnchor": "start", "titleBaseline": "middle", "titleFontSize": 25, "titleFontWeight": "normal", "titleColor": "#111", "titlePadding": 0, "orient": "none", "legendX": -36.4, "legendY": -26, "padding": 0, "symbolOpacity": 0, "symbolSize": 0, "symbolStrokeWidth": 0, "labelFontSize": 14.7, "labelColor": "#111", "labelLimit": 0, "labelOffset": 1.1, "labelBaseline": "alphabetic"}}}}
        ]
      }
    ]
  }
]
}
